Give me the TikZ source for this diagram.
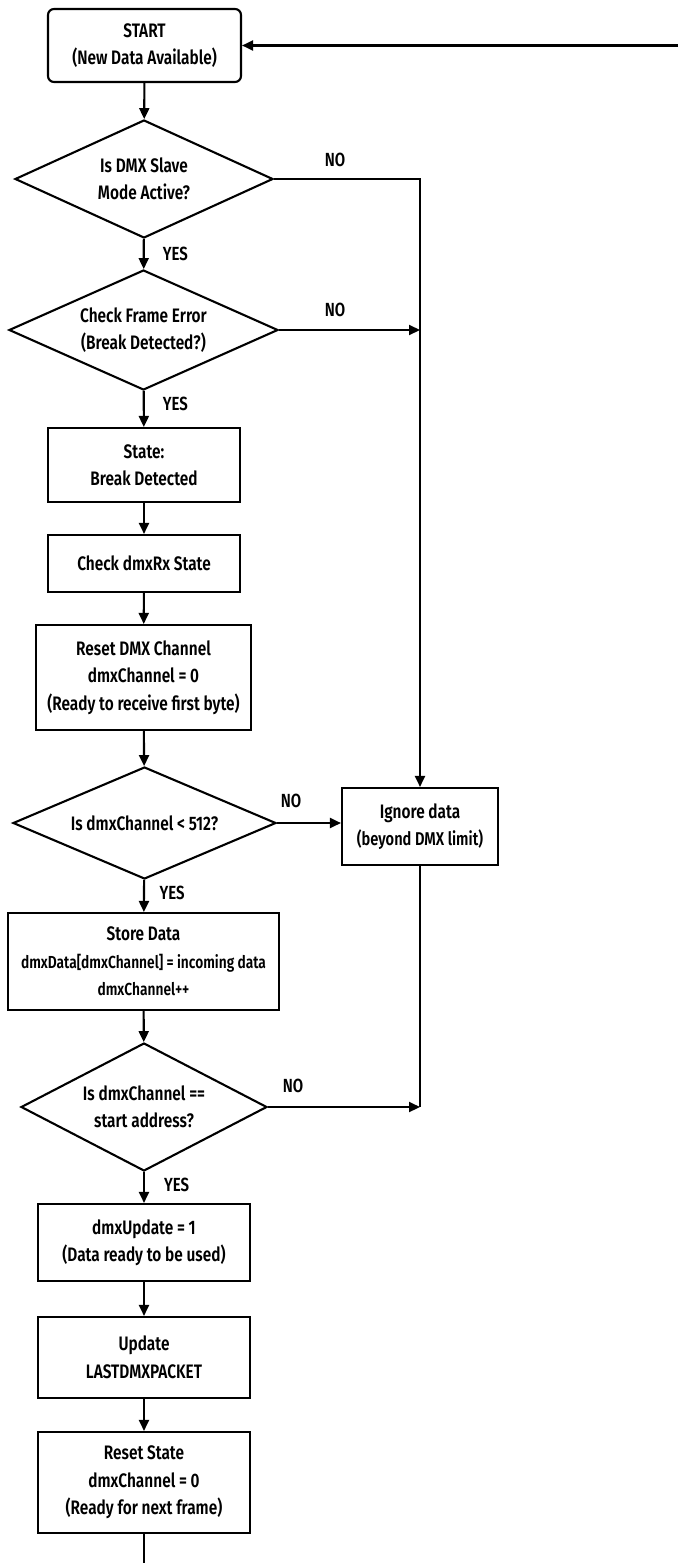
\documentclass[tikz,border=0pt]{standalone}
\usepackage{fontspec}
\setmainfont{Fira Sans}[UprightFont={* SemiBold}, BoldFont={* Bold}, FakeStretch=0.79]
\usetikzlibrary{shapes.geometric,arrows.meta,calc}

\newcommand{\codesize}{\fontsize{17.4}{26.5}\selectfont}

\tikzset{
  txt/.style={inner sep=0pt, align=center, font=\fontsize{19.5}{27.5}\selectfont},
  box/.style={draw, line width=2.1pt, txt},
  decision/.style={draw, diamond, line width=2.1pt, inner sep=0pt},
  flow/.style={line width=2.1pt, -{Triangle[length=11pt,width=10pt]}},
  plain/.style={line width=2.1pt},
  lbl/.style={font=\fontsize{19}{20}\selectfont, inner sep=0pt},
}

\begin{document}
\begin{tikzpicture}[x=1pt,y=-1pt]
\path[use as bounding box, fill=white] (0,0) rectangle (678,1563);

% main column
\node[box, rounded corners=6pt, minimum width=193pt, minimum height=73pt] (start) at (144.5,45.5)
  {START\\(New Data Available)};

\node[decision, minimum width=258pt, minimum height=118pt] (d1) at (144,179) {};
\node[txt] (d1t) at (d1.center) {Is DMX Slave\\Mode Active?};

\node[decision, minimum width=269pt, minimum height=120pt] (d2) at (143.5,330) {};
\node[txt] (d2t) at (d2.center) {Check Frame Error\\(Break Detected?)};

\node[box, minimum width=192pt, minimum height=74pt] (brk) at (144,465)
  {State:\\Break Detected};
\node[box, minimum width=192pt, minimum height=57pt] (chk) at (144,563.5)
  {Check dmxRx State};
\node[box, minimum width=215pt, minimum height=105pt] (rst) at (143.5,677.5)
  {Reset DMX Channel\\dmxChannel = 0\\(Ready to receive first byte)};

\node[decision, minimum width=263pt, minimum height=112pt] (d3) at (144.5,823) {};
\node[txt] (d3t) at (d3.center) {Is dmxChannel < 512?};

\node[box, minimum width=271pt, minimum height=97pt] (store) at (143.5,961.5)
  {Store Data\\{\codesize dmxData[dmxChannel] = incoming data}\\{\codesize dmxChannel++}};

\node[decision, minimum width=246pt, minimum height=128pt] (d4) at (144,1107) {};
\node[txt] (d4t) at (d4.center) {Is dmxChannel ==\\start address?};

\node[box, minimum width=212pt, minimum height=77pt] (upd) at (144,1242.5)
  {dmxUpdate = 1\\(Data ready to be used)};
\node[box, minimum width=212pt, minimum height=81pt] (last) at (144,1357.5)
  {Update\\LASTDMXPACKET};
\node[box, minimum width=212pt, minimum height=101pt] (rs) at (144,1482.5)
  {Reset State\\dmxChannel = 0\\(Ready for next frame)};

% side branch
\node[box, minimum width=156pt, minimum height=77pt] (ign) at (420,826.5)
  {Ignore data\\{\fontsize{18.5}{26}\selectfont(beyond DMX limit)}};

% loose ends of the loop back to START
\coordinate (ret) at (678,45.5);
\coordinate (bot) at (144,1563);

% main flow
\draw[flow] (start) -- (d1);
\draw[flow] (d1) -- node[lbl, anchor=west, xshift=18pt] (y1) {YES} (d2);
\draw[flow] (d2) -- node[lbl, anchor=west, xshift=18pt, yshift=5pt] (y2) {YES} (brk);
\draw[flow] (brk) -- (chk);
\draw[flow] (chk) -- (rst);
\draw[flow] (rst) -- (d3);
\draw[flow] (d3) -- node[lbl, anchor=west, xshift=14.5pt, yshift=3pt] (y3) {YES} (store);
\draw[flow] (store) -- (d4);
\draw[flow] (d4) -- node[lbl, anchor=west, xshift=19pt, yshift=2.5pt] (y4) {YES} (upd);
\draw[flow] (upd) -- (last);
\draw[flow] (last) -- (rs);
\draw[plain] (rs) -- (bot);
\draw[flow] (ret) -- (start);

% NO branches
\draw[flow] (d1.east) -| (ign.north);
\node[lbl] (n1) at (335,160) {NO};
\draw[flow] (d2.east) -- (d2.east -| ign.north);
\node[lbl] (n2) at (335,310) {NO};
\draw[flow] (d3.east) -- (d3.east -| ign.west);
\node[lbl] (n3) at (291,801) {NO};
\draw[plain] (ign.south) -- (ign.south |- d4.east);
\draw[flow] (d4.east) -- (d4.east -| ign.south);
\node[lbl] (n4) at (293,1086) {NO};
\end{tikzpicture}
\end{document}
